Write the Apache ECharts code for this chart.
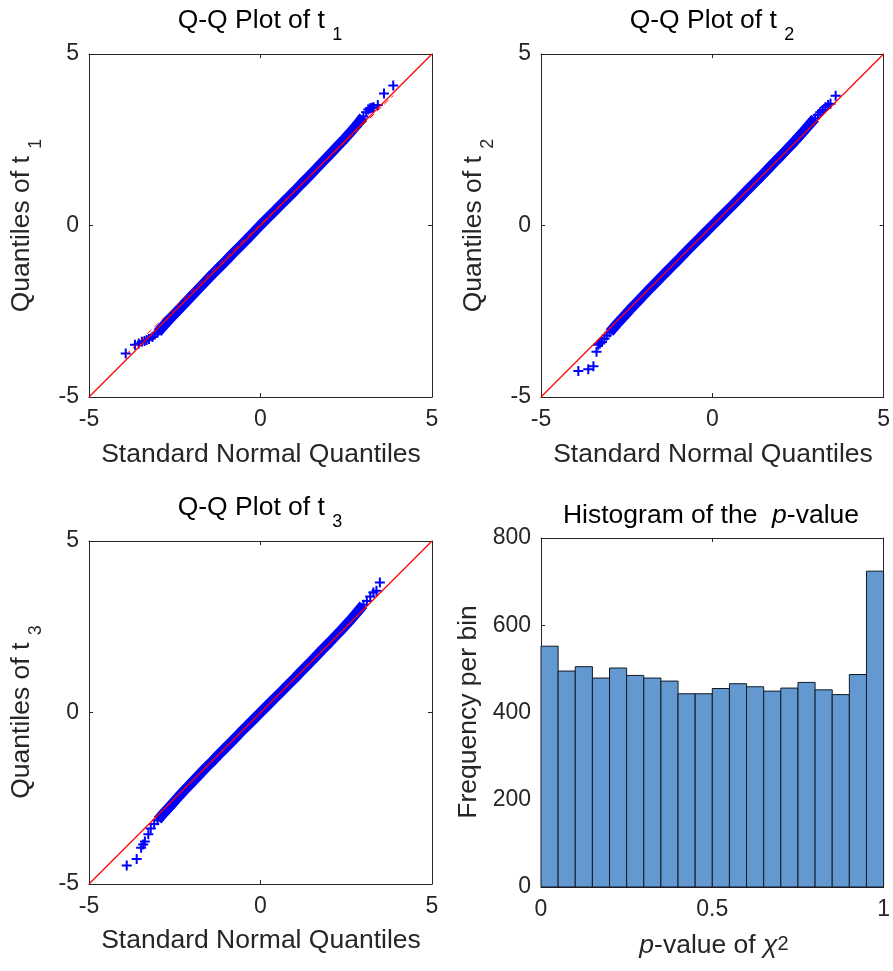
<!DOCTYPE html>
<html><head><meta charset="utf-8">
<script src="https://cdn.jsdelivr.net/npm/echarts@6/dist/echarts.min.js"></script>
<style>html,body{margin:0;padding:0;background:#fff}#c{width:893px;height:971px}</style>
</head><body><div id="c"></div><script>
// ---------- data ----------
const bandX = [-3.0,-2.8,-2.6,-2.4,-2.2,-2.0,-1.8,-1.6,-1.4,-1.2,-1.0,-0.8,-0.6,-0.4,-0.2,0.0,0.2,0.4,0.6,0.8,1.0,1.2,1.4,1.6,1.8,2.0,2.2,2.4,2.6,2.8,3.0];
const t1BandY = [-3.12,-2.90,-2.68,-2.47,-2.26,-2.05,-1.84,-1.63,-1.42,-1.22,-1.02,-0.81,-0.61,-0.41,-0.20,0.01,0.21,0.41,0.61,0.81,1.01,1.22,1.42,1.63,1.84,2.05,2.26,2.47,2.69,2.92,3.18];
const t1TailX = [-3.93,-3.66,-3.55,-3.46,-3.38,-3.32,-3.25,-3.15,-3.08,3.08,3.14,3.19,3.25,3.30,3.42,3.60,3.87];
const t1TailY = [-3.73,-3.48,-3.44,-3.39,-3.37,-3.34,-3.31,-3.25,-3.18,3.30,3.38,3.42,3.43,3.45,3.51,3.85,4.08];
const t1FitX = [-3.93,3.87];
const t1FitY = [-3.77,3.79];

const t2BandY = [-3.12,-2.89,-2.67,-2.45,-2.24,-2.03,-1.82,-1.62,-1.41,-1.21,-1.01,-0.80,-0.60,-0.40,-0.20,0.00,0.20,0.40,0.60,0.80,1.01,1.21,1.41,1.62,1.83,2.03,2.24,2.45,2.67,2.90,3.13];
const t2TailX = [-3.91,-3.62,-3.47,-3.38,-3.33,-3.28,-3.22,-3.15,-3.08,3.08,3.15,3.22,3.30,3.38,3.45,3.60];
const t2TailY = [-4.24,-4.19,-4.10,-3.68,-3.48,-3.44,-3.40,-3.30,-3.21,3.22,3.30,3.37,3.45,3.51,3.55,3.78];

const t3BandY = [-3.14,-2.91,-2.69,-2.47,-2.25,-2.04,-1.83,-1.62,-1.42,-1.21,-1.01,-0.81,-0.60,-0.40,-0.20,0.00,0.20,0.40,0.60,0.80,1.00,1.21,1.41,1.62,1.83,2.03,2.24,2.45,2.67,2.90,3.14];
const t3TailX = [-3.90,-3.61,-3.48,-3.42,-3.37,-3.27,-3.20,-3.10,3.10,3.20,3.29,3.38,3.48];
const t3TailY = [-4.46,-4.27,-3.94,-3.85,-3.76,-3.55,-3.38,-3.25,3.25,3.38,3.50,3.55,3.79];

const refLineX = [-5, 5];
const refLineY = [-5, 5];

const binEdges = [0,0.05,0.10,0.15,0.20,0.25,0.30,0.35,0.40,0.45,0.50,0.55,0.60,0.65,0.70,0.75,0.80,0.85,0.90,0.95,1.00];
const binCounts = [552,495,505,479,502,485,479,472,443,443,455,466,459,449,456,469,452,441,487,724];

const qqTicks = [-5, 0, 5];
const histXTicks = [0, 0.5, 1];
const histYTicks = [0, 200, 400, 600, 800];

// ---------- styling ----------
const FONT = '"Liberation Sans", Arial, sans-serif';
const AX = '#262626';
const TICK_FS = 23;
const LAB_FS = 26.5;
const grids = [
  {left: 89, top: 54, width: 343, height: 343},
  {left: 541, top: 54, width: 343, height: 343},
  {left: 89, top: 541, width: 343, height: 343},
  {left: 541, top: 538, width: 343, height: 349}
];

function mkAxis(g, pos, ticks, showLabel, margin) {
  return {
    type: 'value', gridIndex: g, position: pos,
    min: ticks[0], max: ticks[ticks.length - 1], interval: ticks[1] - ticks[0],
    axisLine: {show: true, onZero: false, lineStyle: {color: AX, width: 1}},
    axisTick: {show: true, inside: true, length: 4, lineStyle: {color: AX, width: 1}},
    axisLabel: {show: showLabel, fontSize: TICK_FS, fontFamily: FONT, color: AX, margin: margin},
    splitLine: {show: false}
  };
}
const xAxes = [], yAxes = [];
for (let g = 0; g < 4; g++) {
  const xt = g === 3 ? histXTicks : qqTicks;
  const yt = g === 3 ? histYTicks : qqTicks;
  xAxes.push(mkAxis(g, 'bottom', xt, true, 11));
  xAxes.push(mkAxis(g, 'top', xt, false, 8));
  yAxes.push(mkAxis(g, 'left', yt, true, 10));
  yAxes.push(mkAxis(g, 'right', yt, false, 8));
}

const BLUE = '#0000ff';
const RED = '#ff0000';
const PLUS = 'path://M4,0H6V4H10V6H6V10H4V6H0V4H4Z';
const series = [];
const panels = [
  {bandY: t1BandY, tailX: t1TailX, tailY: t1TailY},
  {bandY: t2BandY, tailX: t2TailX, tailY: t2TailY},
  {bandY: t3BandY, tailX: t3TailX, tailY: t3TailY}
];
panels.forEach((p, k) => {
  const band = bandX.map((x, i) => [x, p.bandY[i]]);
  const tails = p.tailX.map((x, i) => [x, p.tailY[i]]);
  series.push({
    type: 'line', xAxisIndex: 2 * k, yAxisIndex: 2 * k, data: band, color: BLUE,
    showSymbol: false, symbol: 'none', itemStyle: {color: BLUE},
    lineStyle: {color: BLUE, width: 10, opacity: 1}, z: 2, silent: true, emphasis: {disabled: true}
  });
  series.push({
    type: 'scatter', xAxisIndex: 2 * k, yAxisIndex: 2 * k, data: band.concat(tails), color: BLUE,
    symbol: PLUS, symbolSize: 10, itemStyle: {color: BLUE, opacity: 1}, z: 3, silent: true,
    emphasis: {disabled: true}
  });
  if (k === 0) {
    series.push({
      type: 'line', xAxisIndex: 0, yAxisIndex: 0, data: t1FitX.map((x, i) => [x, t1FitY[i]]), color: RED,
      symbol: 'none', itemStyle: {color: RED}, lineStyle: {color: RED, width: 1, type: [6, 4], opacity: 1},
      z: 4, silent: true, emphasis: {disabled: true}
    });
  }
  series.push({
    type: 'line', xAxisIndex: 2 * k, yAxisIndex: 2 * k, data: refLineX.map((x, i) => [x, refLineY[i]]),
    color: RED, symbol: 'none', itemStyle: {color: RED}, lineStyle: {color: RED, width: 1.2, opacity: 1},
    z: 5, silent: true, emphasis: {disabled: true}
  });
});
series.push({
  type: 'custom', xAxisIndex: 6, yAxisIndex: 6,
  data: binCounts.map((c, i) => [binEdges[i], binEdges[i + 1], c]),
  renderItem: function (params, api) {
    const p0 = api.coord([api.value(0), api.value(2)]);
    const p1 = api.coord([api.value(1), 0]);
    return {
      type: 'rect',
      shape: {x: p0[0], y: p0[1], width: p1[0] - p0[0], height: p1[1] - p0[1]},
      style: {fill: '#6399d0', stroke: '#111a24', lineWidth: 1}
    };
  },
  z: 2, silent: true
});

function txt(x, y, text, opts) {
  opts = opts || {};
  const col = opts.color || '#000';
  const rich = {
    s: {fontSize: 18, fontFamily: FONT, fill: col, padding: [28, 0, 0, 0]},
    i: {fontSize: LAB_FS, fontFamily: FONT, fontStyle: 'italic', fill: col},
    c: {fontSize: LAB_FS, fontFamily: FONT, fontStyle: 'italic', fill: col},
    u: {fontSize: 20, fontFamily: FONT, fill: col, padding: [0, 0, 4, 0]}
  };
  return {
    type: 'text', x: x, y: y, rotation: opts.rot || 0, silent: true,
    style: {
      text: text, fontSize: LAB_FS, fontFamily: FONT, fill: col,
      align: 'center', verticalAlign: 'middle', rich: rich
    }
  };
}
const R = Math.PI / 2;
const graphics = [
  txt(260, 21, 'Q-Q Plot of t {s|1}'),
  txt(712, 21, 'Q-Q Plot of t {s|2}'),
  txt(260, 508, 'Q-Q Plot of t {s|3}'),
  txt(711, 516, 'Histogram of the  {i|p}-value'),
  txt(261, 455, 'Standard Normal Quantiles', {color: AX}),
  txt(713, 455, 'Standard Normal Quantiles', {color: AX}),
  txt(261, 941, 'Standard Normal Quantiles', {color: AX}),
  txt(714, 946, '{i|p}-value of {c|χ}{u|2}', {color: AX}),
  txt(22, 225.5, 'Quantiles of t {s|1}', {rot: R, color: AX}),
  txt(474, 225.5, 'Quantiles of t {s|2}', {rot: R, color: AX}),
  txt(22, 712, 'Quantiles of t {s|3}', {rot: R, color: AX}),
  txt(469, 712, 'Frequency per bin', {rot: R, color: AX})
];

const chart = echarts.init(document.getElementById('c'), null, {renderer: 'canvas'});
chart.setOption({
  backgroundColor: '#ffffff',
  animation: false,
  grid: grids,
  xAxis: xAxes,
  yAxis: yAxes,
  series: series,
  graphic: graphics
});
</script></body></html>
